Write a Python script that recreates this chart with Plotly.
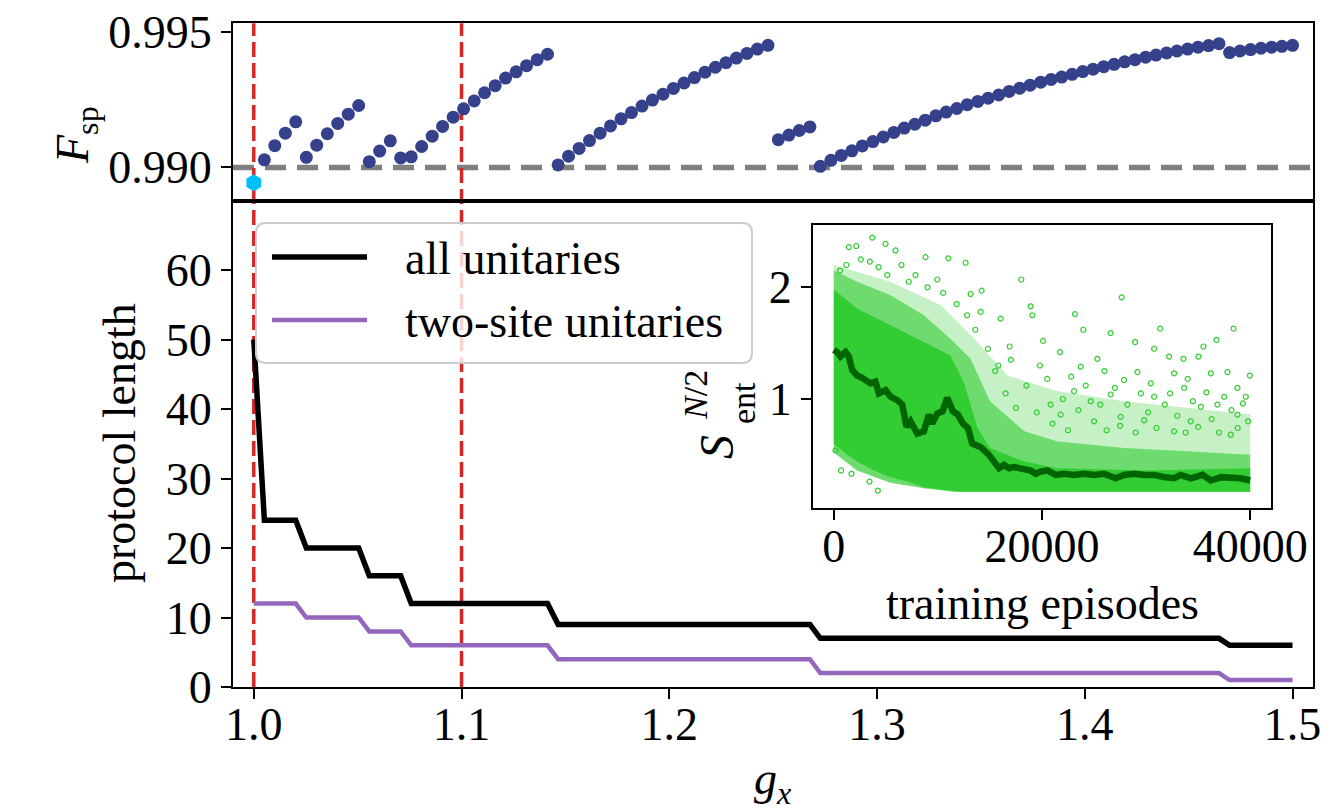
import plotly.graph_objects as go

W, H = 1327, 810


def px(x):
    return x / W


def py(y):
    return 1 - y / H


FONT = "Liberation Serif"
TICK_SIZE = 46

# ---------------- data ----------------
# transverse field grid
g_grid = [
    1.0000, 1.0051, 1.0101, 1.0152, 1.0202, 1.0253, 1.0303, 1.0354, 1.0404, 1.0455,
    1.0505, 1.0556, 1.0606, 1.0657, 1.0707, 1.0758, 1.0808, 1.0859, 1.0909, 1.0960,
    1.1010, 1.1061, 1.1111, 1.1162, 1.1212, 1.1263, 1.1313, 1.1364, 1.1414, 1.1465,
    1.1515, 1.1566, 1.1616, 1.1667, 1.1717, 1.1768, 1.1818, 1.1869, 1.1919, 1.1970,
    1.2020, 1.2071, 1.2121, 1.2172, 1.2222, 1.2273, 1.2323, 1.2374, 1.2424, 1.2475,
    1.2525, 1.2576, 1.2626, 1.2677, 1.2727, 1.2778, 1.2828, 1.2879, 1.2929, 1.2980,
    1.3030, 1.3081, 1.3131, 1.3182, 1.3232, 1.3283, 1.3333, 1.3384, 1.3434, 1.3485,
    1.3535, 1.3586, 1.3636, 1.3687, 1.3737, 1.3788, 1.3838, 1.3889, 1.3939, 1.3990,
    1.4040, 1.4091, 1.4141, 1.4192, 1.4242, 1.4293, 1.4343, 1.4394, 1.4444, 1.4495,
    1.4545, 1.4596, 1.4646, 1.4697, 1.4747, 1.4798, 1.4848, 1.4899, 1.4949, 1.5000,
]

# fidelity of the found protocols (grid points 1..99)
fidelity = [
    0.99028, 0.99080, 0.99126, 0.99168,
    0.99037, 0.99082, 0.99124, 0.99162, 0.99196, 0.99228,
    0.99021, 0.99060, 0.99098,
    0.99035, 0.99039, 0.99077, 0.99115, 0.99151, 0.99185, 0.99216, 0.99245,
    0.99275, 0.99301, 0.99329, 0.99352, 0.99375, 0.99397, 0.99417,
    0.99009, 0.99041, 0.99070, 0.99099, 0.99126, 0.99153, 0.99179, 0.99202,
    0.99226, 0.99248, 0.99270, 0.99291, 0.99311, 0.99331, 0.99351, 0.99369,
    0.99386, 0.99403, 0.99420, 0.99436, 0.99450,
    0.99102, 0.99119, 0.99136, 0.99149,
    0.99004, 0.99026, 0.99044, 0.99061, 0.99079, 0.99095, 0.99112, 0.99129,
    0.99145, 0.99159, 0.99174, 0.99190, 0.99204, 0.99217, 0.99231, 0.99243,
    0.99255, 0.99267, 0.99280, 0.99292, 0.99303, 0.99314, 0.99324, 0.99333,
    0.99343, 0.99353, 0.99362, 0.99371, 0.99380, 0.99389, 0.99397, 0.99406,
    0.99414, 0.99422, 0.99429, 0.99436, 0.99443, 0.99449, 0.99456,
    0.99423, 0.99429, 0.99434, 0.99439, 0.99443, 0.99446, 0.99450,
]

# fidelity at the critical point
g_critical = [1.0]
fidelity_critical = [0.98943]

fidelity_threshold = 0.990
marked_g = [1.0, 1.1]

# protocol lengths
len_all = [
    50, 24, 24, 24, 24, 20, 20, 20, 20, 20,
    20, 16, 16, 16, 16, 12, 12, 12, 12, 12,
    12, 12, 12, 12, 12, 12, 12, 12, 12, 9,
    9, 9, 9, 9, 9, 9, 9, 9, 9, 9,
    9, 9, 9, 9, 9, 9, 9, 9, 9, 9,
    9, 9, 9, 9, 7, 7, 7, 7, 7, 7,
    7, 7, 7, 7, 7, 7, 7, 7, 7, 7,
    7, 7, 7, 7, 7, 7, 7, 7, 7, 7,
    7, 7, 7, 7, 7, 7, 7, 7, 7, 7,
    7, 7, 7, 6, 6, 6, 6, 6, 6, 6,
]
len_two_site = [
    12, 12, 12, 12, 12, 10, 10, 10, 10, 10,
    10, 8, 8, 8, 8, 6, 6, 6, 6, 6,
    6, 6, 6, 6, 6, 6, 6, 6, 6, 4,
    4, 4, 4, 4, 4, 4, 4, 4, 4, 4,
    4, 4, 4, 4, 4, 4, 4, 4, 4, 4,
    4, 4, 4, 4, 2, 2, 2, 2, 2, 2,
    2, 2, 2, 2, 2, 2, 2, 2, 2, 2,
    2, 2, 2, 2, 2, 2, 2, 2, 2, 2,
    2, 2, 2, 2, 2, 2, 2, 2, 2, 2,
    2, 2, 2, 1, 1, 1, 1, 1, 1, 1,
]

# inset: running average of half-chain entanglement during training
ep_avg = [0, 320, 640, 1120, 1440, 1760, 2240, 2720, 3530, 4000, 4330, 4970,
          5450, 6090, 6570, 6990, 7370, 8010, 8650, 9130, 9450, 9930, 10440,
          10900, 11440, 11920, 12400, 12890, 13300, 14100, 14900, 15380, 15870,
          16350, 16830, 17300, 18270, 18910, 19390, 19870, 20510, 21310, 22110,
          23080, 24040, 25000, 25960, 27080, 27880, 28850, 29810, 30770, 31730,
          32690, 33330, 34290, 35420, 36220, 37180, 38140, 39100, 40000]
s_avg = [1.44, 1.42, 1.38, 1.42, 1.38, 1.26, 1.21, 1.19, 1.14, 1.155, 1.05, 1.08,
         1.02, 0.99, 0.95, 0.75, 0.80, 0.69, 0.71, 0.86, 0.78, 0.87, 0.89,
         1.01, 0.89, 0.86, 0.78, 0.74, 0.60, 0.57, 0.50, 0.44, 0.38,
         0.41, 0.38, 0.39, 0.38, 0.36, 0.33, 0.35, 0.36, 0.32, 0.33,
         0.32, 0.33, 0.32, 0.33, 0.29, 0.32, 0.33, 0.32, 0.32, 0.30,
         0.29, 0.32, 0.29, 0.32, 0.27, 0.30, 0.30, 0.29, 0.27]

# inset: density envelopes of the per-episode entanglement cloud
core_top_ep = [0, 2240, 5450, 8650, 11200, 12500, 13800, 15000, 18300, 21500, 30000, 40000]
core_top_s = [1.98, 1.81, 1.66, 1.51, 1.39, 1.15, 0.74, 0.56, 0.44, 0.38, 0.36, 0.38]
core_bot_ep = [40000, 12000, 8650, 7050, 5450, 3850, 2240, 1000, 0]
core_bot_s = [0.17, 0.17, 0.21, 0.26, 0.30, 0.36, 0.44, 0.52, 0.60]

mid_top_ep = [0, 2240, 5450, 8650, 11200, 13140, 15000, 18300, 21500, 27900, 34300, 40000]
mid_top_s = [2.15, 2.05, 1.93, 1.75, 1.54, 1.36, 0.98, 0.71, 0.62, 0.56, 0.53, 0.50]
low_bot_ep = [40000, 11500, 8650, 5450, 2240, 0]
low_bot_s = [0.17, 0.17, 0.20, 0.25, 0.36, 0.52]

sparse_top_ep = [0, 5450, 10300, 13500, 16700, 21500, 27900, 34300, 40000]
sparse_top_s = [2.2, 2.05, 1.84, 1.54, 1.21, 1.07, 0.98, 0.92, 0.86]

# inset: isolated episodes around the dense cloud
out_ep = [3690, 1440, 2150, 4970, 5930, 3460, 8810, 11000, 12660, 5130, 7850, 9940,
          13140, 14200, 18010, 27660, 14100, 16020, 18910, 19070, 23170, 31350,
          38400, 23970, 26600, 36760, 35510, 30770, 28940, 16890, 20100, 21730,
          32210, 33590, 35030, 37820, 39970, 29170, 25320, 23720, 27880, 30450,
          32690, 36220, 38780, 39580, 35260, 33650, 30770, 26600, 24680, 23080,
          20830, 36860, 38780, 34290, 29810, 27560, 21790, 38140, 32690, 160, 700,
          3430, 4230, 1700,
          16500, 17500, 18500, 19500, 20500, 21000, 22000, 22500, 23500, 24200,
          25000, 25600, 26200, 27000, 27500, 28200, 29000, 29500, 30200, 31000,
          31800, 32300, 33000, 33800, 34500, 35000, 35800, 36300, 37000, 37500,
          38200, 38800, 39300, 39800, 15500, 17000, 19800, 22800, 26000, 34000,
          600, 1200, 2600, 4300, 6500, 7200, 9000, 10500, 11800, 12800, 13600,
          14800, 15800]
out_s = [2.445, 2.36, 2.37, 2.39, 2.33, 2.23, 2.27, 2.26, 2.22, 2.11, 2.11, 2.07,
         1.94, 1.97, 2.07, 1.91, 1.78, 1.72, 1.83, 1.75, 1.76, 1.63,
         1.63, 1.62, 1.59, 1.53, 1.47, 1.45, 1.51, 1.47, 1.52, 1.42,
         1.38, 1.36, 1.38, 1.24, 1.21, 1.24, 1.36, 1.29, 1.17, 1.14,
         1.23, 1.23, 1.10, 1.02, 0.93, 1.10, 1.02, 1.04, 0.98, 1.07,
         0.95, 0.95, 0.86, 0.80, 0.81, 0.84, 0.86, 0.68, 0.71, 0.54, 0.36,
         0.26, 0.18, 0.33,
         1.05, 0.92, 1.12, 0.88, 1.18, 0.78, 1.00, 0.72, 0.90, 1.12,
         0.80, 0.95, 0.72, 1.10, 0.76, 0.95, 0.70, 1.05, 0.88, 0.74,
         0.95, 1.05, 0.85, 0.70, 0.98, 0.75, 1.06, 0.82, 0.70, 1.02,
         0.90, 0.74, 0.96, 0.80, 1.25, 1.35, 1.30, 1.20, 1.25, 1.18,
         2.15, 2.20, 2.25, 2.18, 2.20, 2.05, 2.00, 1.95, 1.85, 1.75, 1.62,
         1.45, 1.30]

# ---------------- colours ----------------
NAVY = "#35418b"
CYAN = "#00bfff"
RED = "#d62728"
PURPLE = "#9467bd"
LIME = "#32cd32"
DARKGREEN = "#006400"

fig = go.Figure()

# top panel: fidelity
fig.add_trace(go.Scatter(
    x=g_grid[1:], y=fidelity, mode="markers", xaxis="x2", yaxis="y2",
    marker=dict(color=NAVY, size=13, line=dict(width=0)), showlegend=False,
))
fig.add_trace(go.Scatter(
    x=g_critical, y=fidelity_critical, mode="markers", xaxis="x2", yaxis="y2",
    marker=dict(color=CYAN, size=17, symbol="hexagon", line=dict(width=0)),
    showlegend=False,
))

# bottom panel: protocol lengths
fig.add_trace(go.Scatter(
    x=g_grid, y=len_all, mode="lines", xaxis="x", yaxis="y",
    line=dict(color="black", width=5.5), showlegend=False,
))
fig.add_trace(go.Scatter(
    x=g_grid, y=len_two_site, mode="lines", xaxis="x", yaxis="y",
    line=dict(color=PURPLE, width=4.5), showlegend=False,
))

# inset: entanglement cloud (sparse, medium, dense) and running average
fig.add_trace(go.Scatter(
    x=sparse_top_ep + low_bot_ep, y=sparse_top_s + low_bot_s, xaxis="x3", yaxis="y3",
    mode="lines", fill="toself", fillcolor="rgba(50,205,50,0.28)",
    line=dict(width=0), showlegend=False, hoverinfo="skip",
))
fig.add_trace(go.Scatter(
    x=mid_top_ep + low_bot_ep, y=mid_top_s + low_bot_s, xaxis="x3", yaxis="y3",
    mode="lines", fill="toself", fillcolor="rgba(50,205,50,0.6)",
    line=dict(width=0), showlegend=False, hoverinfo="skip",
))
fig.add_trace(go.Scatter(
    x=core_top_ep + core_bot_ep, y=core_top_s + core_bot_s, xaxis="x3", yaxis="y3",
    mode="lines", fill="toself", fillcolor=LIME,
    line=dict(width=0), showlegend=False, hoverinfo="skip",
))
fig.add_trace(go.Scatter(
    x=out_ep, y=out_s, xaxis="x3", yaxis="y3", mode="markers",
    marker=dict(symbol="circle-open", size=5, color=LIME, line=dict(width=1.2)),
    showlegend=False,
))
fig.add_trace(go.Scatter(
    x=ep_avg, y=s_avg, xaxis="x3", yaxis="y3", mode="lines",
    line=dict(color=DARKGREEN, width=6.5), showlegend=False,
))

# ---------------- shapes ----------------
shapes = []
# threshold line
shapes.append(dict(type="line", xref="x2 domain", yref="y2", x0=0, x1=1,
                   y0=fidelity_threshold, y1=fidelity_threshold, layer="below",
                   line=dict(color="gray", width=5.5, dash="21px,11px")))
# marked field values spanning both panels
for gv in marked_g:
    shapes.append(dict(type="line", xref="x", yref="paper", x0=gv, x1=gv,
                       y0=py(687), y1=py(23.3), layer="below",
                       line=dict(color=RED, width=3.5, dash="15px,6px")))

# legend frame
lx0, lx1, ly0, ly1, r = px(256), px(752), py(223), py(363), 10
rx, ry = r / W, r / H
legend_path = (
    f"M {lx0 + rx},{ly0} L {lx1 - rx},{ly0} Q {lx1},{ly0} {lx1},{ly0 - ry} "
    f"L {lx1},{ly1 + ry} Q {lx1},{ly1} {lx1 - rx},{ly1} "
    f"L {lx0 + rx},{ly1} Q {lx0},{ly1} {lx0},{ly1 + ry} "
    f"L {lx0},{ly0 - ry} Q {lx0},{ly0} {lx0 + rx},{ly0} Z"
)
shapes.append(dict(type="path", xref="paper", yref="paper", path=legend_path,
                   fillcolor="rgba(255,255,255,0.8)", layer="above",
                   line=dict(color="#cccccc", width=2)))
shapes.append(dict(type="line", xref="paper", yref="paper", x0=px(272), x1=px(367),
                   y0=py(257), y1=py(257), layer="above",
                   line=dict(color="black", width=5.5)))
shapes.append(dict(type="line", xref="paper", yref="paper", x0=px(272), x1=px(367),
                   y0=py(320), y1=py(320), layer="above",
                   line=dict(color=PURPLE, width=4.5)))

# ---------------- annotations ----------------
ann = []


def text(x, y, s, size=TICK_SIZE, angle=0, xanchor="center", yanchor="middle"):
    ann.append(dict(x=px(x), y=py(y), xref="paper", yref="paper", text=s,
                    showarrow=False, textangle=angle, xanchor=xanchor,
                    yanchor=yanchor, font=dict(family=FONT, size=size, color="black")))


text(403, 258, "all unitaries", xanchor="left")
text(403, 322, "two-site unitaries", xanchor="left")
text(119, 443, "protocol length", angle=-90)
text(76, 135, "<i>F</i><sub>sp</sub>", angle=-90)
text(773, 782, "<i>g</i><sub><i>x</i></sub>")
text(1042, 603, "training episodes")
text(717, 447, "<i>S</i>", size=48, angle=-90)
text(743, 403, "ent", size=34, angle=-90)
text(696, 395, "<i>N</i>/2", size=34, angle=-90)

axis_common = dict(
    showline=True, linecolor="black", linewidth=2, mirror=True, automargin=False,
    showgrid=False, zeroline=False, ticklen=10, tickwidth=2,
    tickcolor="black", tickfont=dict(family=FONT, size=TICK_SIZE, color="black"),
)

fig.update_layout(
    width=W, height=H, autosize=False,
    margin=dict(l=0, r=0, t=0, b=0, pad=0, autoexpand=False),
    paper_bgcolor="white", plot_bgcolor="white",
    showlegend=False,
    xaxis=dict(domain=[px(233), px(1313.3)], range=[0.99, 1.51], anchor="y",
               ticks="outside", tickvals=[1.0, 1.1, 1.2, 1.3, 1.4, 1.5],
               ticktext=["1.0", "1.1", "1.2", "1.3", "1.4", "1.5"],
               ticklabelstandoff=-14, **axis_common),
    yaxis=dict(domain=[py(687), py(200.5)], range=[0, 70], anchor="x",
               ticks="outside", tickvals=[0, 10, 20, 30, 40, 50, 60], **axis_common),
    xaxis2=dict(domain=[px(233), px(1313.3)], range=[0.99, 1.51], anchor="y2",
                ticks="", showticklabels=False, **axis_common),
    yaxis2=dict(domain=[py(200.5), py(23.3)], range=[0.98878, 0.99531], anchor="x2",
                ticks="outside", tickvals=[0.990, 0.995], ticktext=["0.990", "0.995"],
                **axis_common),
    xaxis3=dict(domain=[px(813), px(1271)], range=[-2000, 42000], anchor="y3",
                ticks="outside", tickvals=[0, 20000, 40000],
                ticktext=["0", "20000", "40000"], ticklabelstandoff=-14, **axis_common),
    yaxis3=dict(domain=[py(508.3), py(225)], range=[0.021, 2.558], anchor="x3",
                ticks="outside", tickvals=[1, 2], **axis_common),
    shapes=shapes,
    annotations=ann,
)

fig.write_html("out.html")
